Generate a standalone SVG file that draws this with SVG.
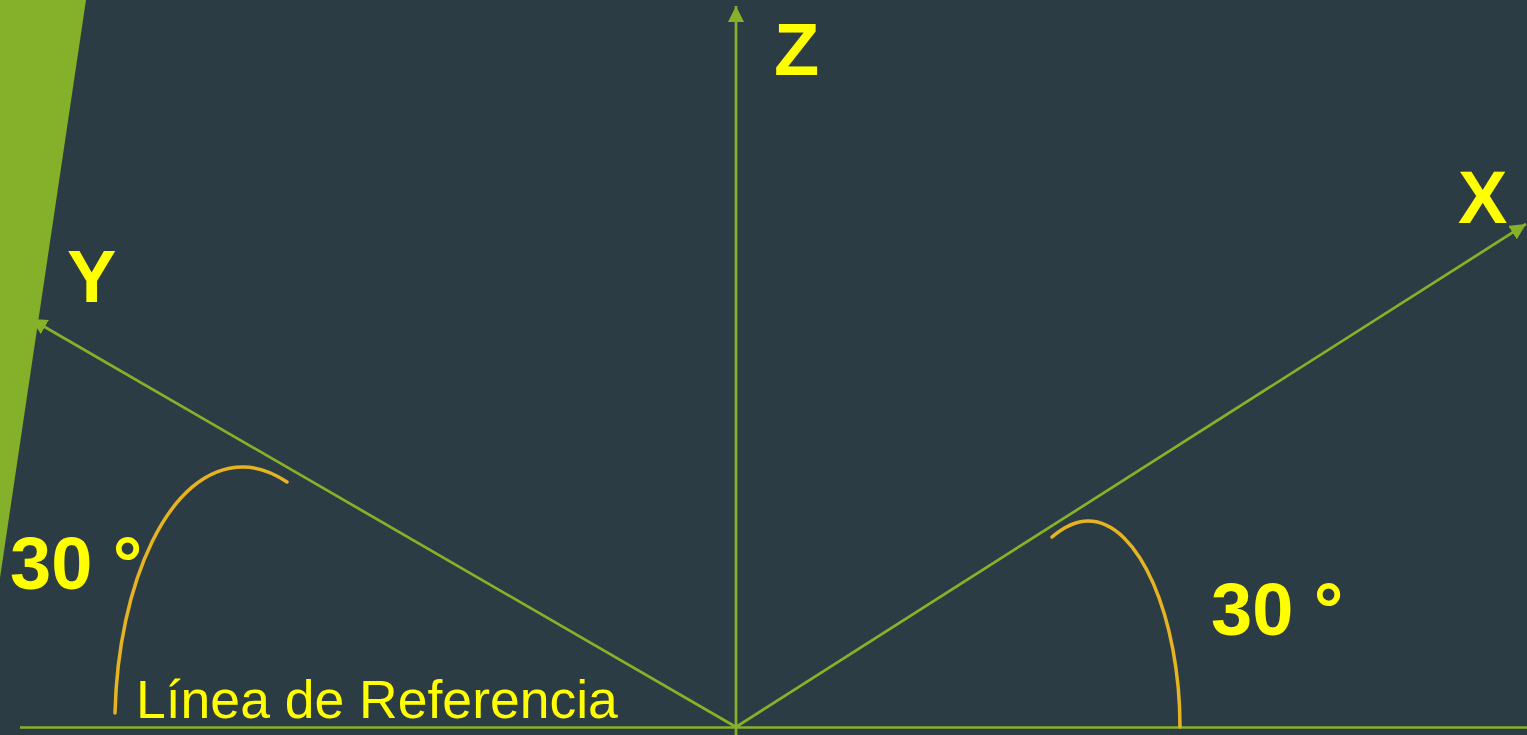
<svg xmlns="http://www.w3.org/2000/svg" width="1527" height="735" viewBox="0 0 1527 735">
<defs>
<style>
.axis{stroke:#86B22A;stroke-width:2.7;fill:none}
.arc{stroke:#E6B422;stroke-width:3.5;fill:none;stroke-linecap:round}
.lbl{font-family:"Liberation Sans",Arial,sans-serif;font-weight:bold;fill:#FFFF00}
.ref{font-family:"Liberation Sans",Arial,sans-serif;fill:#FFFF00}
</style>
<marker id="ah" markerUnits="userSpaceOnUse" markerWidth="18" markerHeight="16" refX="16" refY="8" orient="auto">
<path d="M0,0 L16,8 L0,16 Z" fill="#86B22A"/>
</marker>
</defs>
<rect width="1527" height="735" fill="#2C3C44"/>
<polygon id="band" points="0,0 86,0 0,578" fill="#84B02A"/>
<g id="connectors">
<line class="axis" x1="20" y1="727.5" x2="1527" y2="727.5"/>
<line class="axis" x1="736" y1="735" x2="736" y2="6" marker-end="url(#ah)"/>
<line class="axis" x1="736" y1="727" x2="31" y2="319" marker-end="url(#ah)"/>
<line class="axis" x1="736" y1="727" x2="1526" y2="224" marker-end="url(#ah)"/>
</g>
<g id="arc-left">
<path class="arc" d="M115,713 C118,585 168,467 243,467 C260,467 275,474 287,482"/>
</g>
<g id="arc-right">
<path class="arc" d="M1052,537 C1065,526 1076,521 1088,521 C1140,521 1180,620 1180,727"/>
</g>
<g id="label-z"><text class="lbl" x="774" y="75" font-size="74">Z</text></g>
<g id="label-x"><text class="lbl" x="1458" y="223" font-size="74">X</text></g>
<g id="label-y"><text class="lbl" x="67" y="302" font-size="74">Y</text></g>
<g id="angle-left"><text class="lbl" x="10" y="589" font-size="74">30 °</text></g>
<g id="angle-right"><text class="lbl" x="1211" y="635" font-size="74">30 °</text></g>
<g id="ref-label"><text class="ref" x="136" y="718" font-size="53.5">Línea de Referencia</text></g>
</svg>
